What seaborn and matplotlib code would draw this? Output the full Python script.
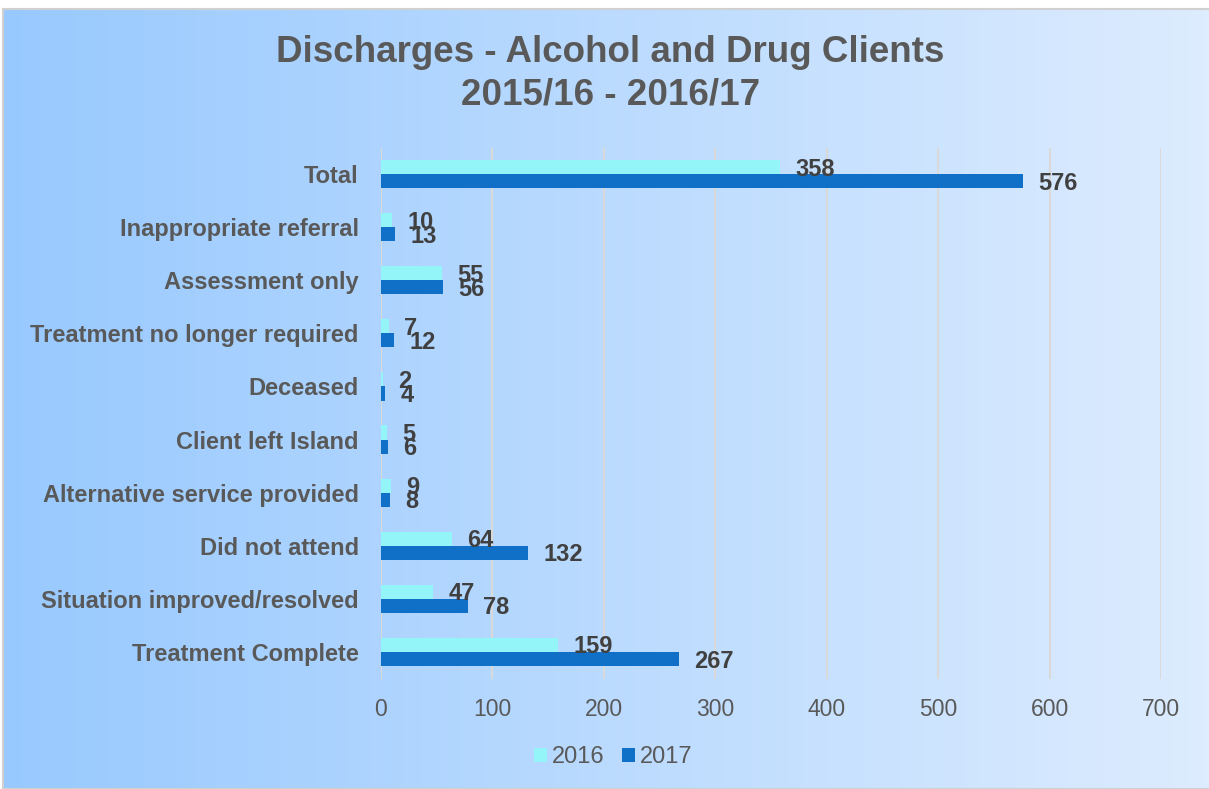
import numpy as np
import pandas as pd
import matplotlib
matplotlib.use("Agg")
import matplotlib.pyplot as plt
import seaborn as sns
from matplotlib.colors import LinearSegmentedColormap

categories = ["Total", "Inappropriate referral", "Assessment only",
              "Treatment no longer required", "Deceased", "Client left Island",
              "Alternative service provided", "Did not attend",
              "Situation improved/resolved", "Treatment Complete"]
values_2016 = [358, 10, 55, 7, 2, 5, 9, 64, 47, 159]
values_2017 = [576, 13, 56, 12, 4, 6, 8, 132, 78, 267]
years = ["2016", "2017"]
x_ticks = [0, 100, 200, 300, 400, 500, 600, 700]

df = pd.DataFrame({
    "category": categories * 2,
    "value": values_2016 + values_2017,
    "year": [years[0]] * len(categories) + [years[1]] * len(categories),
})

sns.set_theme(style="white")
plt.rcParams['font.family'] = ['Liberation Sans', 'DejaVu Sans']

c2016 = "#93F5F8"
c2017 = "#1070C8"
txt = "#595959"
lbl = "#404040"

fig = plt.figure(figsize=(12.09, 7.89), dpi=100)
fig.patch.set_facecolor("white")

# gradient background
bg = fig.add_axes([3/1209, 0, 1 - 3/1209, 1 - 9/789])
cmap = LinearSegmentedColormap.from_list("g", ["#98C9FE", "#DDECFF"])
bg.imshow(np.linspace(0, 1, 256).reshape(1, -1), aspect="auto", cmap=cmap,
          extent=[0, 1, 0, 1])
bg.set_axis_off()
fig.add_artist(plt.Rectangle((3/1209, 0), 1, 1 - 9/789, transform=fig.transFigure,
                             fill=False, edgecolor="#D0D0D0", linewidth=1.5))

ax = fig.add_axes([381/1209, 1 - 678.5/789, (1161 - 381)/1209, (678.5 - 147.5)/789])
ax.set_facecolor("none")
sns.barplot(data=df, y="category", x="value", hue="year", order=categories,
            hue_order=years, palette=[c2016, c2017], orient="h", width=0.53,
            saturation=1, linewidth=0, ax=ax, errorbar=None)

ax.set_xlim(0, 700)
ax.set_xticks(x_ticks)
ax.set_xticklabels([str(t) for t in x_ticks], fontsize=16.5, color=txt)
ax.tick_params(axis="x", length=0, pad=14)
ax.tick_params(axis="y", length=0, pad=16)
for t in ax.get_yticklabels():
    t.set_fontsize(17)
    t.set_fontweight("bold")
    t.set_color(txt)
ax.set_xlabel("")
ax.set_ylabel("")
ax.grid(axis="x", color="#D9D9D9", linewidth=1.5)
ax.set_axisbelow(True)
for s in ax.spines.values():
    s.set_visible(False)

for cont in ax.containers:
    texts = ax.bar_label(cont, padding=11, fontsize=17, fontweight="bold", color=lbl)
    for t in texts:
        t.xyann = (11, -1.5)

handles, labels = ax.get_legend_handles_labels()
ax.legend(handles, labels, loc="center", bbox_to_anchor=(0.507, 0.04),
          bbox_transform=fig.transFigure, ncol=2, frameon=False, fontsize=17,
          handlelength=0.55, handleheight=0.55, handletextpad=0.2,
          columnspacing=0.75, labelcolor=txt)

fig.text(0.505, 1 - 52/789, "Discharges - Alcohol and Drug Clients",
         ha="center", va="center", fontsize=26.5, fontweight="bold", color=txt)
fig.text(0.505, 1 - 95/789, "2015/16 - 2016/17",
         ha="center", va="center", fontsize=26.5, fontweight="bold", color=txt)

fig.savefig("out.png", dpi=100, facecolor=fig.get_facecolor())
